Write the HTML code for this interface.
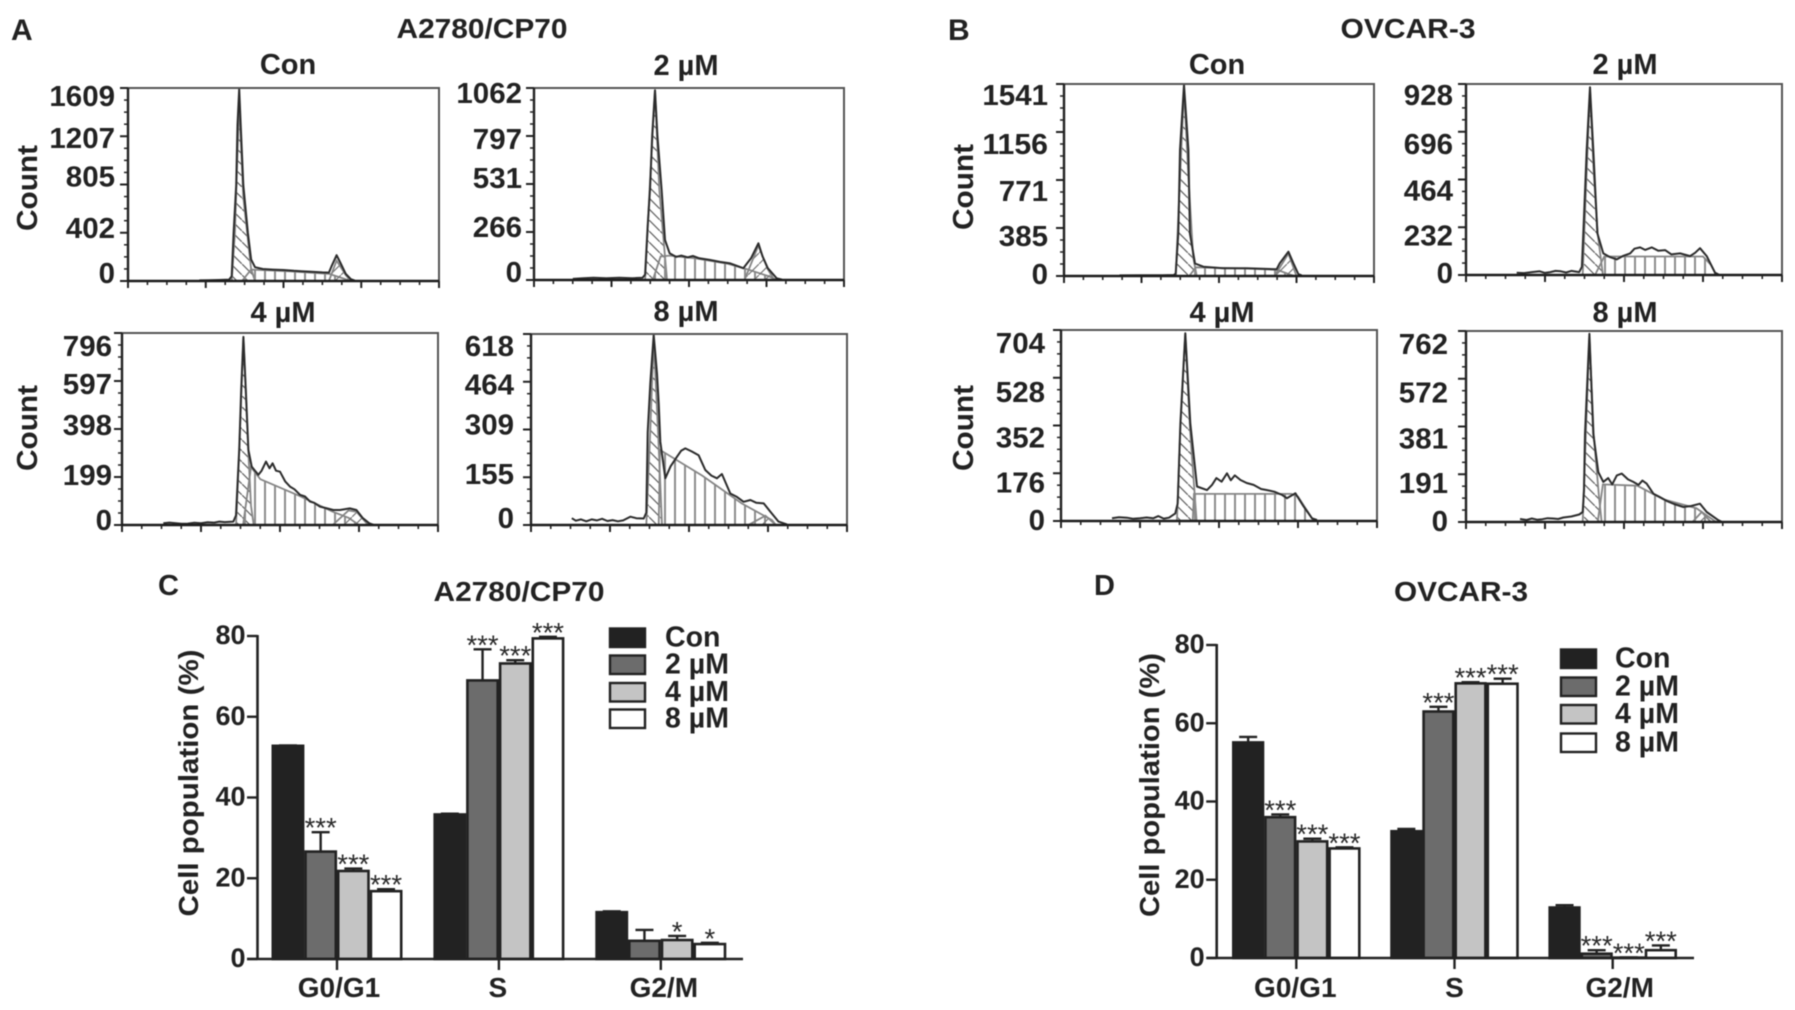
<!DOCTYPE html>
<html lang="en">
<head>
<meta charset="utf-8">
<title>Cell cycle histograms and population bars</title>
<style>
html,body{margin:0;padding:0;background:#fff;width:1795px;height:1010px;overflow:hidden}
svg{display:block;filter:blur(0.55px)}
text{font-family:"Liberation Sans",Arial,sans-serif;font-weight:bold;fill:#222}
</style>
</head>
<body>
<svg id="figure" xmlns="http://www.w3.org/2000/svg" width="1795" height="1010" viewBox="0 0 1795 1010">
<defs>
<pattern id="hatch-g1" patternUnits="userSpaceOnUse" width="11" height="11"><path d="M-1,-1L12,12" stroke="#666" stroke-width="1.3"/></pattern>
<pattern id="hatch-s" patternUnits="userSpaceOnUse" width="10" height="10"><path d="M5,0V10" stroke="#8c8c8c" stroke-width="2"/></pattern>
<pattern id="hatch-g2" patternUnits="userSpaceOnUse" width="11" height="11"><path d="M-1,12L12,-1" stroke="#777" stroke-width="1.2"/></pattern>
</defs>
<rect x="0" y="0" width="1795" height="1010" fill="#fff"/>
<text x="11" y="40" font-size="30">A</text>
<text x="948" y="40" font-size="30">B</text>
<text x="158" y="595" font-size="29">C</text>
<text x="1094" y="595" font-size="29">D</text>
<text x="482" y="38" font-size="28" text-anchor="middle" textLength="171" lengthAdjust="spacingAndGlyphs">A2780/CP70</text>
<text x="1408" y="38" font-size="28" text-anchor="middle" textLength="135" lengthAdjust="spacingAndGlyphs">OVCAR-3</text>
<text x="519" y="601" font-size="28" text-anchor="middle" textLength="171" lengthAdjust="spacingAndGlyphs">A2780/CP70</text>
<text x="1461" y="601" font-size="28" text-anchor="middle" textLength="134" lengthAdjust="spacingAndGlyphs">OVCAR-3</text>
<text transform="translate(198,783) rotate(-90)" font-size="28" text-anchor="middle" textLength="267" lengthAdjust="spacingAndGlyphs">Cell population (%)</text>
<text transform="translate(1159,785) rotate(-90)" font-size="28" text-anchor="middle" textLength="264" lengthAdjust="spacingAndGlyphs">Cell population (%)</text>
</svg>
<script>
// ---------- Histogram data: channels and counts (panel A, A2780/CP70) ----------
const aConTicks = [0, 402, 805, 1207, 1609];
const aConChannels = [55, 62, 70, 78, 80, 81.5, 83.5, 84.5, 85.8, 87, 89, 92.5, 95, 98, 104, 112, 120, 128, 134, 140, 150, 155, 157, 161, 164, 168, 172, 175];
const aConCounts = [5, 7, 8, 12, 40, 400, 800, 1300, 1600, 1300, 800, 400, 180, 115, 100, 95, 92, 85, 82, 78, 72, 70, 120, 215, 150, 60, 15, 3];
const aConG1Fit = [[80, 0], [82.5, 400], [85.8, 1500], [89, 700], [95, 100], [98, 0]];
const aConSFit = [[88, 0], [95, 95], [125, 80], [155, 60], [172, 0]];
const aConG2Fit = [[155, 0], [161, 170], [168, 50], [172, 0]];

const a2Ticks = [0, 266, 531, 797, 1062];
const a2Channels = [30, 38, 46, 56, 66, 76, 84, 86, 88, 89.8, 91.5, 93.7, 95.5, 98.8, 101.4, 105, 110, 114, 119, 123, 128, 136, 144, 152, 162, 168, 173.7, 177, 181, 188, 192];
const a2Counts = [6, 10, 12, 10, 12, 10, 12, 30, 300, 500, 800, 1050, 800, 500, 222, 148, 128, 135, 125, 133, 120, 111, 100, 92, 65, 120, 203, 130, 65, 9, 2];
const a2G1Fit = [[86, 0], [89.5, 500], [93.7, 1050], [97, 500], [103, 0]];
const a2SFit = [[92, 0], [98, 130], [105, 135], [125, 120], [150, 90], [165, 60], [182, 20], [188, 0]];
const a2G2Fit = [[163, 0], [173.7, 190], [181, 60], [186, 0]];

const a4Ticks = [0, 199, 398, 597, 796];
const a4Channels = [31.4, 36, 40, 45, 50, 55, 60, 65, 70, 74, 78, 84.5, 86.6, 89, 90.5, 92.2, 94, 96, 98.5, 101, 103.6, 106, 109.4, 112, 114.4, 117, 120, 124, 127.6, 131, 135.2, 139, 142.8, 146, 150.4, 155, 160.5, 165.6, 173, 178, 183, 187.8, 191];
const a4Counts = [7, 10, 8, 5, 6, 9, 7, 11, 10, 14, 12, 14, 40, 311, 560, 780, 560, 311, 242, 225, 208, 225, 263, 235, 256, 225, 221, 180, 159, 148, 125, 118, 97, 92, 76, 70, 62, 62, 69, 62, 28, 7, 1];
const a4G1Fit = [[86.6, 0], [89, 300], [92.2, 780], [96, 300], [98, 80], [100, 0]];
const a4SFit = [[92, 0], [98, 240], [105, 190], [135, 120], [160, 55], [172, 30], [180, 0]];
const a4G2Fit = [[160, 0], [172, 60], [178, 55], [187, 0]];

const a8Ticks = [0, 155, 309, 464, 618];
const a8Channels = [31, 34, 38, 42, 46, 50, 54, 58, 62, 66, 70, 75.4, 80, 85.6, 87.6, 88.6, 90.6, 93.2, 95.7, 97, 98.2, 102, 106, 110.9, 114, 117.2, 122, 127.3, 130, 132.4, 137, 141.3, 145, 151.4, 156, 161.5, 166.6, 171, 176.7, 181.8, 188, 194.4];
const a8Counts = [22, 14, 18, 12, 18, 15, 20, 13, 16, 12, 15, 27, 22, 21, 40, 300, 458, 615, 490, 394, 270, 151, 190, 221, 240, 248, 238, 226, 200, 178, 160, 151, 165, 102, 92, 75, 81, 72, 70, 43, 11, 2];
const a8G1Fit = [[87.6, 0], [90.5, 300], [93.2, 600], [96.5, 300], [99.5, 0]];
const a8SFit = [[97, 0], [98, 243], [130, 160], [160, 70], [183, 16], [186, 0]];
const a8G2Fit = [[165, 0], [178, 30], [186, 0]];

// ---------- Histogram data: channels and counts (panel B, OVCAR-3) ----------
const bConTicks = [0, 385, 771, 1156, 1541];
const bConChannels = [43, 60, 76, 85, 86.5, 88.5, 89.8, 92.9, 96.3, 97.5, 101.4, 107.9, 123, 141.4, 164.6, 167, 173.7, 177.6, 181.4, 184];
const bConCounts = [5, 6, 6, 8, 20, 342, 1011, 1534, 1011, 342, 100, 75, 62, 62, 54, 102, 195, 102, 16, 5];
const bConG1Fit = [[86.5, 0], [89, 600], [92.9, 1500], [96.3, 800], [100, 150], [102.7, 0]];
const bConSFit = [[97, 0], [102, 70], [140, 60], [165, 50], [178, 0]];
const bConG2Fit = [[163, 0], [173.7, 180], [180, 0]];

const b2Ticks = [0, 232, 464, 696, 928];
const b2Channels = [38.5, 44, 50, 56, 60, 64, 68, 72, 76, 80, 86, 88, 89.6, 91.7, 94.2, 96.7, 99.8, 104.3, 109, 114.5, 119, 124.6, 128, 132.2, 136, 141, 146, 151.2, 156, 162.6, 170.2, 174, 177.7, 182.8, 189.1, 192];
const b2Counts = [11, 9, 14, 18, 10, 14, 20, 18, 12, 20, 14, 40, 283, 607, 912, 607, 202, 105, 88, 76, 92, 105, 128, 134, 122, 134, 118, 121, 100, 105, 92, 108, 130, 92, 11, 2];
const b2G1Fit = [[88.6, 0], [91, 400], [94.2, 900], [97, 500], [100, 200], [104, 0]];
const b2SFit = [[98, 0], [105, 90], [180, 90], [186, 50], [190, 0]];
const b2G2Fit = [];

const b4Ticks = [0, 176, 352, 528, 704];
const b4Channels = [38.7, 44, 50, 55, 60, 65, 70, 74, 78, 82, 86.8, 88.6, 90.7, 94.4, 98.2, 103.3, 110.9, 114.7, 118, 122, 126.1, 129, 132, 136.3, 141, 146.3, 152, 156.5, 162, 168, 171.6, 178, 184.3, 190.6, 194.4];
const b4Counts = [10, 14, 12, 8, 10, 13, 10, 18, 9, 12, 28, 65, 360, 692, 360, 127, 114, 133, 158, 145, 176, 150, 168, 151, 140, 133, 118, 114, 108, 96, 84, 102, 53, 10, 4];
const b4G1Fit = [[88, 0], [90.7, 350], [94.4, 690], [98, 340], [103, 0]];
const b4SFit = [[100, 0], [101, 100], [175, 100], [180, 90], [192, 0]];
const b4G2Fit = [];

const b8Ticks = [0, 191, 381, 572, 762];
const b8Channels = [41, 46, 50, 54, 58, 62, 66, 70, 74, 80, 86, 88.6, 89.6, 90.4, 93.7, 96.7, 100.5, 104.3, 108, 111, 114.5, 118.3, 123, 127.1, 131, 134, 137.2, 142.3, 147, 152.4, 158, 165, 171, 177.7, 182.8, 191.6, 194];
const b8Counts = [12, 8, 14, 9, 11, 15, 14, 12, 18, 22, 30, 40, 126, 352, 751, 352, 199, 160, 175, 150, 186, 193, 170, 160, 148, 165, 153, 113, 100, 84, 72, 60, 64, 73, 40, 7, 1];
const b8G1Fit = [[88.6, 0], [91, 350], [93.7, 740], [97, 350], [101, 100], [103, 0]];
const b8SFit = [[100, 0], [104, 150], [130, 145], [150, 90], [175, 55], [190, 0]];
const b8G2Fit = [[172, 0], [179, 40], [186, 0]];

// ---------- Bar chart data ----------
const barCategories = ['G0/G1', 'S', 'G2/M'];
const barSeriesNames = ['Con', '2 µM', '4 µM', '8 µM'];
const barTicks = [0, 20, 40, 60, 80];

const chartCCon = [52.8, 35.8, 11.6];
const chartC2uM = [26.6, 69, 4.5];
const chartC4uM = [21.8, 73.2, 4.7];
const chartC8uM = [16.8, 79.4, 3.7];
const chartCConErr = [0.1, 0.2, 0.2];
const chartC2uMErr = [4.8, 7.7, 2.7];
const chartC4uMErr = [0.6, 0.8, 1];
const chartC8uMErr = [0.5, 0.4, 0.3];
const chartCConStars = ['', '', ''];
const chartC2uMStars = ['***', '***', ''];
const chartC4uMStars = ['***', '***', '*'];
const chartC8uMStars = ['***', '***', '*'];

const chartDCon = [55.1, 32.4, 12.9];
const chartD2uM = [36, 63, 1.1];
const chartD4uM = [29.8, 70.2, 0.1];
const chartD8uM = [28, 70.1, 2];
const chartDConErr = [1.4, 0.6, 0.6];
const chartD2uMErr = [0.7, 1.2, 0.9];
const chartD4uMErr = [0.7, 0.3, 0.05];
const chartD8uMErr = [0.3, 1.3, 1.2];
const chartDConStars = ['', '', ''];
const chartD2uMStars = ['***', '***', '***'];
const chartD4uMStars = ['***', '***', '***'];
const chartD8uMStars = ['***', '***', '***'];

const NS = 'http://www.w3.org/2000/svg';
const figure = document.getElementById('figure');

function make(tag, attrs, parent) {
  const node = document.createElementNS(NS, tag);
  for (const key in attrs) node.setAttribute(key, attrs[key]);
  parent.appendChild(node);
  return node;
}

function fitPath(points, sx, sy) {
  return points.map(function (p, i) {
    return (i ? 'L' : 'M') + sx(p[0]).toFixed(1) + ',' + sy(p[1]).toFixed(1);
  }).join('') + 'Z';
}

function drawHistogram(p) {
  const maxCount = p.ticks[p.ticks.length - 1];
  const sx = function (c) { return p.left + c / 240 * (p.right - p.left); };
  const sy = function (v) { return p.bottom - v / maxCount * (p.bottom - p.top); };

  const group = make('g', {}, figure);
  
  

  const fits = [['g1', p.g1, '#hatch-g1'], ['s', p.s, '#hatch-s'], ['g2', p.g2, '#hatch-g2']];
  fits.forEach(function (fit) {
    if (!fit[1].length) return;
    const area = make('path', { d: fitPath(fit[1], sx, sy), fill: 'url(' + fit[2] + ')', stroke: '#858585', 'stroke-width': 1.8 }, group);
    
    
  });

  const points = p.channels.map(function (c, i) {
    return sx(c).toFixed(1) + ',' + sy(p.counts[i]).toFixed(1);
  }).join(' ');
  const outline = make('polyline', { points: points, fill: 'none', stroke: '#2c2c2c', 'stroke-width': 2, 'stroke-linejoin': 'round' }, group);
  
  

  const frame = make('rect', { x: p.left, y: p.top, width: p.right - p.left, height: p.bottom - p.top, fill: 'none', stroke: '#555', 'stroke-width': 2 }, group);
  
  

  const yLine = make('line', { x1: p.left, x2: p.left, y1: p.top, y2: p.bottom, stroke: '#222', 'stroke-width': 2.4 }, group);
  
  

  const xLine = make('line', { x1: p.left, x2: p.right, y1: p.bottom, y2: p.bottom, stroke: '#1c1c1c', 'stroke-width': 2.6 }, group);
  
  

  for (let c = 0; c <= 240; c += 15) {
    const isMajor = c % 60 === 0;
    const tick = make('line', { x1: sx(c), x2: sx(c), y1: p.bottom, y2: p.bottom + (isMajor ? 7 : 4), stroke: '#222', 'stroke-width': isMajor ? 2 : 1.6 }, group);
    
    
  }
  for (let k = 0; k <= 16; k++) {
    const val = maxCount * k / 16;
    const isMajor = k % 4 === 0;
    const tick = make('line', { x1: p.left - (isMajor ? 8 : 4), x2: p.left, y1: sy(val), y2: sy(val), stroke: '#222', 'stroke-width': isMajor ? 2 : 1.5 }, group);
    
    
  }
  p.ticks.forEach(function (value, i) {
    const str = String(value);
    const label = make('text', { x: p.labelRight, y: sy(value) + p.nudge[i] + 10, 'font-size': 29, 'text-anchor': 'end', textLength: str.length * 16.4, lengthAdjust: 'spacingAndGlyphs' }, group);
    label.textContent = str;
    
    
  });

  const title = make('text', { x: p.titleX, y: p.titleY, 'font-size': 29, 'text-anchor': 'middle' }, group);
  title.textContent = p.title;
  
  

  if (p.countX) {
    const count = make('text', { transform: 'translate(' + p.countX + ',' + p.countY + ') rotate(-90)', 'font-size': 29, 'text-anchor': 'middle', textLength: 86, lengthAdjust: 'spacingAndGlyphs' }, group);
    count.textContent = 'Count';
    
    
  }
}

const nudgeA1 = [-8, -5, -8, 2, 8];
const nudgeA2 = [-8, -5, -6, 3, 5];
const nudgeA4 = [-5, -2, -4, 3, 13];
const nudgeA8 = [-7, -3, -5, 3, 12];
const nudgeB = [-2, 8, 11, 12, 11];
const nudgeB4 = [-1, 9, 12, 14, 13];

drawHistogram({ name: 'histogram-a-con', title: 'Con', titleX: 288, titleY: 74, left: 128, right: 439, top: 88, bottom: 281, labelRight: 115, nudge: nudgeA1, countX: 37, countY: 188, ticks: aConTicks, channels: aConChannels, counts: aConCounts, g1: aConG1Fit, s: aConSFit, g2: aConG2Fit });
drawHistogram({ name: 'histogram-a-2um', title: '2 µM', titleX: 686, titleY: 75, left: 534, right: 844, top: 88, bottom: 280, labelRight: 522, nudge: nudgeA2, ticks: a2Ticks, channels: a2Channels, counts: a2Counts, g1: a2G1Fit, s: a2SFit, g2: a2G2Fit });
drawHistogram({ name: 'histogram-a-4um', title: '4 µM', titleX: 283, titleY: 322, left: 122, right: 438, top: 333, bottom: 525, labelRight: 112, nudge: nudgeA4, countX: 37, countY: 428, ticks: a4Ticks, channels: a4Channels, counts: a4Counts, g1: a4G1Fit, s: a4SFit, g2: a4G2Fit });
drawHistogram({ name: 'histogram-a-8um', title: '8 µM', titleX: 686, titleY: 321, left: 531, right: 847, top: 334, bottom: 525, labelRight: 514, nudge: nudgeA8, ticks: a8Ticks, channels: a8Channels, counts: a8Counts, g1: a8G1Fit, s: a8SFit, g2: a8G2Fit });
drawHistogram({ name: 'histogram-b-con', title: 'Con', titleX: 1217, titleY: 74, left: 1064, right: 1374, top: 84, bottom: 276, labelRight: 1048, nudge: nudgeB, countX: 973, countY: 187, ticks: bConTicks, channels: bConChannels, counts: bConCounts, g1: bConG1Fit, s: bConSFit, g2: bConG2Fit });
drawHistogram({ name: 'histogram-b-2um', title: '2 µM', titleX: 1625, titleY: 74, left: 1466, right: 1782, top: 84, bottom: 275, labelRight: 1453, nudge: nudgeB, ticks: b2Ticks, channels: b2Channels, counts: b2Counts, g1: b2G1Fit, s: b2SFit, g2: b2G2Fit });
drawHistogram({ name: 'histogram-b-4um', title: '4 µM', titleX: 1222, titleY: 322, left: 1061, right: 1377, top: 330, bottom: 521, labelRight: 1045, nudge: nudgeB4, countX: 973, countY: 428, ticks: b4Ticks, channels: b4Channels, counts: b4Counts, g1: b4G1Fit, s: b4SFit, g2: b4G2Fit });
drawHistogram({ name: 'histogram-b-8um', title: '8 µM', titleX: 1625, titleY: 322, left: 1466, right: 1782, top: 331, bottom: 522, labelRight: 1448, nudge: nudgeB4, ticks: b8Ticks, channels: b8Channels, counts: b8Counts, g1: b8G1Fit, s: b8SFit, g2: b8G2Fit });

function drawBars(c) {
  const fills = ['#222222', '#6c6c6c', '#c4c4c4', '#ffffff'];
  const maxValue = barTicks[barTicks.length - 1];
  const sy = function (v) { return c.y0 - v / maxValue * (c.y0 - c.y80); };
  const group = make('g', {}, figure);
  
  

  c.values.forEach(function (series, s) {
    series.forEach(function (value, g) {
      const bx = c.center0 + g * c.step + (s - 2) * c.barW;
      const bar = make('rect', { x: bx + 1.2, y: sy(value), width: c.barW - 2.4, height: Math.max(0, c.y0 - sy(value)), fill: fills[s], stroke: '#222', 'stroke-width': 2.6 }, group);
      
      

      const top = value + c.errors[s][g];
      const mid = bx + c.barW / 2;
      const stem = make('path', { d: 'M' + mid + ',' + sy(value) + 'V' + sy(top) + 'M' + (mid - 9) + ',' + sy(top) + 'H' + (mid + 9), stroke: '#222', 'stroke-width': 2.4, fill: 'none' }, group);
      
      

      if (c.stars[s][g]) {
        const star = make('text', { x: mid, y: sy(top) + 5, 'font-size': 27.5, 'text-anchor': 'middle', style: 'font-weight:normal;fill:#2a2a2a' }, group);
        star.textContent = c.stars[s][g];
        
        
      }
    });
  });

  const yAxis = make('line', { x1: c.axisX, x2: c.axisX, y1: c.y80 - 1, y2: c.y0 + 1, stroke: '#222', 'stroke-width': 2.6 }, group);
  
  

  const xAxis = make('line', { x1: c.xStart, x2: c.xEnd, y1: c.y0, y2: c.y0, stroke: '#222', 'stroke-width': 2.6 }, group);
  
  

  barTicks.forEach(function (value) {
    const tick = make('line', { x1: c.axisX - 10.5, x2: c.axisX, y1: sy(value), y2: sy(value), stroke: '#222', 'stroke-width': 2.4 }, group);
    
    
    const label = make('text', { x: c.axisX - 12, y: sy(value) + 8, 'font-size': 27, 'text-anchor': 'end' }, group);
    label.textContent = String(value);
    
    
  });

  barCategories.forEach(function (name, g) {
    const cx = c.center0 + g * c.step;
    const tick = make('line', { x1: cx, x2: cx, y1: c.y0, y2: c.y0 + 11, stroke: '#222', 'stroke-width': 2.4 }, group);
    
    
    const label = make('text', { x: cx + c.labelShift[g], y: 997, 'font-size': 28, 'text-anchor': 'middle' }, group);
    label.textContent = name;
    
    
  });

  barSeriesNames.forEach(function (name, s) {
    const swatch = make('rect', { x: c.legX, y: c.legY[s], width: c.legW, height: 18.5, fill: fills[s], stroke: '#222', 'stroke-width': 2.4 }, group);
    
    
    const label = make('text', { x: c.legTextX, y: c.legY[s] + 18, 'font-size': 28.5 }, group);
    label.textContent = name;
    
    
  });
}

drawBars({
  name: 'chart-c', axisX: 257.5, y0: 959, y80: 636, xStart: 247, xEnd: 743,
  center0: 337, step: 161.9, barW: 32.7, labelShift: [2, -1, 3],
  values: [chartCCon, chartC2uM, chartC4uM, chartC8uM],
  errors: [chartCConErr, chartC2uMErr, chartC4uMErr, chartC8uMErr],
  stars: [chartCConStars, chartC2uMStars, chartC4uMStars, chartC8uMStars],
  legX: 610, legW: 35, legY: [628.5, 655.5, 683, 709.5], legTextX: 665
});
drawBars({
  name: 'chart-d', axisX: 1216.7, y0: 958, y80: 645, xStart: 1207, xEnd: 1694,
  center0: 1296.3, step: 158.2, barW: 32.1, labelShift: [-1, 0, 7],
  values: [chartDCon, chartD2uM, chartD4uM, chartD8uM],
  errors: [chartDConErr, chartD2uMErr, chartD4uMErr, chartD8uMErr],
  stars: [chartDConStars, chartD2uMStars, chartD4uMStars, chartD8uMStars],
  legX: 1561, legW: 35, legY: [649.5, 677.5, 705, 733.5], legTextX: 1615
});
</script>
</body>
</html>
